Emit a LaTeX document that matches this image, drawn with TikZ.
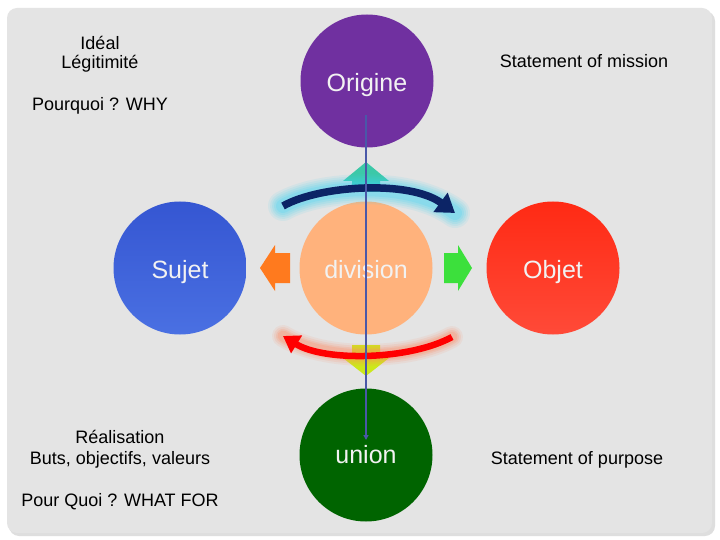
\documentclass[tikz,border=0pt]{standalone}
\usepackage{fontspec}
\setmainfont{Liberation Sans}
\usetikzlibrary{arrows.meta}
\definecolor{bggray}{HTML}{E4E4E4}
\definecolor{purp}{HTML}{7030A0}
\definecolor{bluetop}{HTML}{3556D2}
\definecolor{bluebot}{HTML}{4A70E2}
\definecolor{redtop}{HTML}{FF2A14}
\definecolor{redbot}{HTML}{FF4A38}
\definecolor{peach}{HTML}{FFB27C}
\definecolor{dgreen}{HTML}{006400}
\definecolor{navy}{HTML}{0C2466}
\definecolor{glowcyan}{HTML}{40D4F4}
\definecolor{glowred}{HTML}{FF8A60}
\definecolor{vline}{HTML}{4A58A8}
\definecolor{teal}{HTML}{3CC8A8}
\definecolor{orng}{HTML}{FF7A1E}
\definecolor{grn}{HTML}{3CE03C}
\definecolor{yel}{HTML}{CCE81A}
\tikzset{
  ball/.style={circle, minimum size=133pt, inner sep=0pt, text=white!95!black, font=\fontsize{25}{29}\selectfont},
  lowtext/.style={text height=21pt, text depth=0pt},
  lbl/.style={font=\fontsize{18}{21}\selectfont, text=black, inner sep=0pt},
  glow/.style={line cap=round},
}
\begin{document}
\begin{tikzpicture}[x=1pt,y=-1pt]
\useasboundingbox (0,0) rectangle (720,540);
\fill[white] (0,0) rectangle (720,540);
\fill[black!25, opacity=0.5, rounded corners=10pt] (9,11) rectangle (715,536);
\fill[bggray, rounded corners=10pt] (7,8) rectangle (712,533);

% circles
\node[ball, lowtext, fill=purp] (origine) at (367,81) {Origine};
\node[ball, lowtext, top color=bluetop, bottom color=bluebot] (sujet) at (180,268) {Sujet};
\node[ball, lowtext, fill=peach] (division) at (366,268) {division};
\node[ball, lowtext, top color=redtop, bottom color=redbot] (objet) at (553,268) {Objet};
\node[ball, fill=dgreen] (union) at (366,455) {union};

% block arrows
\fill[teal] (366,162) -- (389,181) -- (380,181) -- (380,192) -- (352,192) -- (352,181) -- (343,181) -- cycle;
\fill[orng] (260,268) -- (275,245) -- (275,253) -- (290,253) -- (290,283) -- (275,283) -- (275,291) -- cycle;
\fill[grn] (472,268) -- (458,245) -- (458,253) -- (444,253) -- (444,283) -- (458,283) -- (458,291) -- cycle;
\fill[yel] (366,376) -- (389,358) -- (380,358) -- (380,345) -- (352,345) -- (352,358) -- (343,358) -- cycle;

% navy arc with glow
\coordinate (na) at (283,206);
\coordinate (nb) at (455,213);
\foreach \w/\o in {30/0.10, 26/0.12, 22/0.14, 18/0.16, 14/0.2}{
  \draw[glow, glowcyan, opacity=\o, line width=\w pt] (na) .. controls (320,185) and (410,180) .. (nb);
}
\draw[navy, line width=7.5pt, -{Triangle[length=18pt,width=23pt]}] (na) .. controls (320,185) and (410,180) .. (nb);

% red arc with glow
\coordinate (ra) at (452,337);
\coordinate (rb) at (283,336);
\foreach \w/\o in {22/0.10, 18/0.14, 14/0.18, 11/0.22}{
  \draw[glow, glowred, opacity=\o, line width=\w pt] (ra) .. controls (410,360) and (325,362) .. (rb);
}
\draw[red, line width=6.5pt, -{Triangle[length=16pt,width=20pt]}] (ra) .. controls (410,360) and (325,362) .. (rb);

% vertical line
\coordinate (vtop) at (366,115);
\coordinate (vbot) at (366,440);
\draw[vline, line width=1.4pt, -{Triangle[length=5pt,width=5pt]}] (vtop) -- (vbot);

% texts
\node[lbl] (ideal) at (100,43) {Idéal};
\node[lbl] (legit) at (100,64) {Légitimité};
\node[lbl] (why) at (100,106) {Pourquoi ? WHY};
\node[lbl] (mission) at (584,61) {Statement of mission};
\node[lbl] (real) at (120,437) {Réalisation};
\node[lbl] (buts) at (120,460) {Buts, objectifs, valeurs};
\node[lbl] (whatfor) at (120,502) {Pour Quoi ? WHAT FOR};
\node[lbl] (purpose) at (577,460) {Statement of purpose};
\end{tikzpicture}
\end{document}
